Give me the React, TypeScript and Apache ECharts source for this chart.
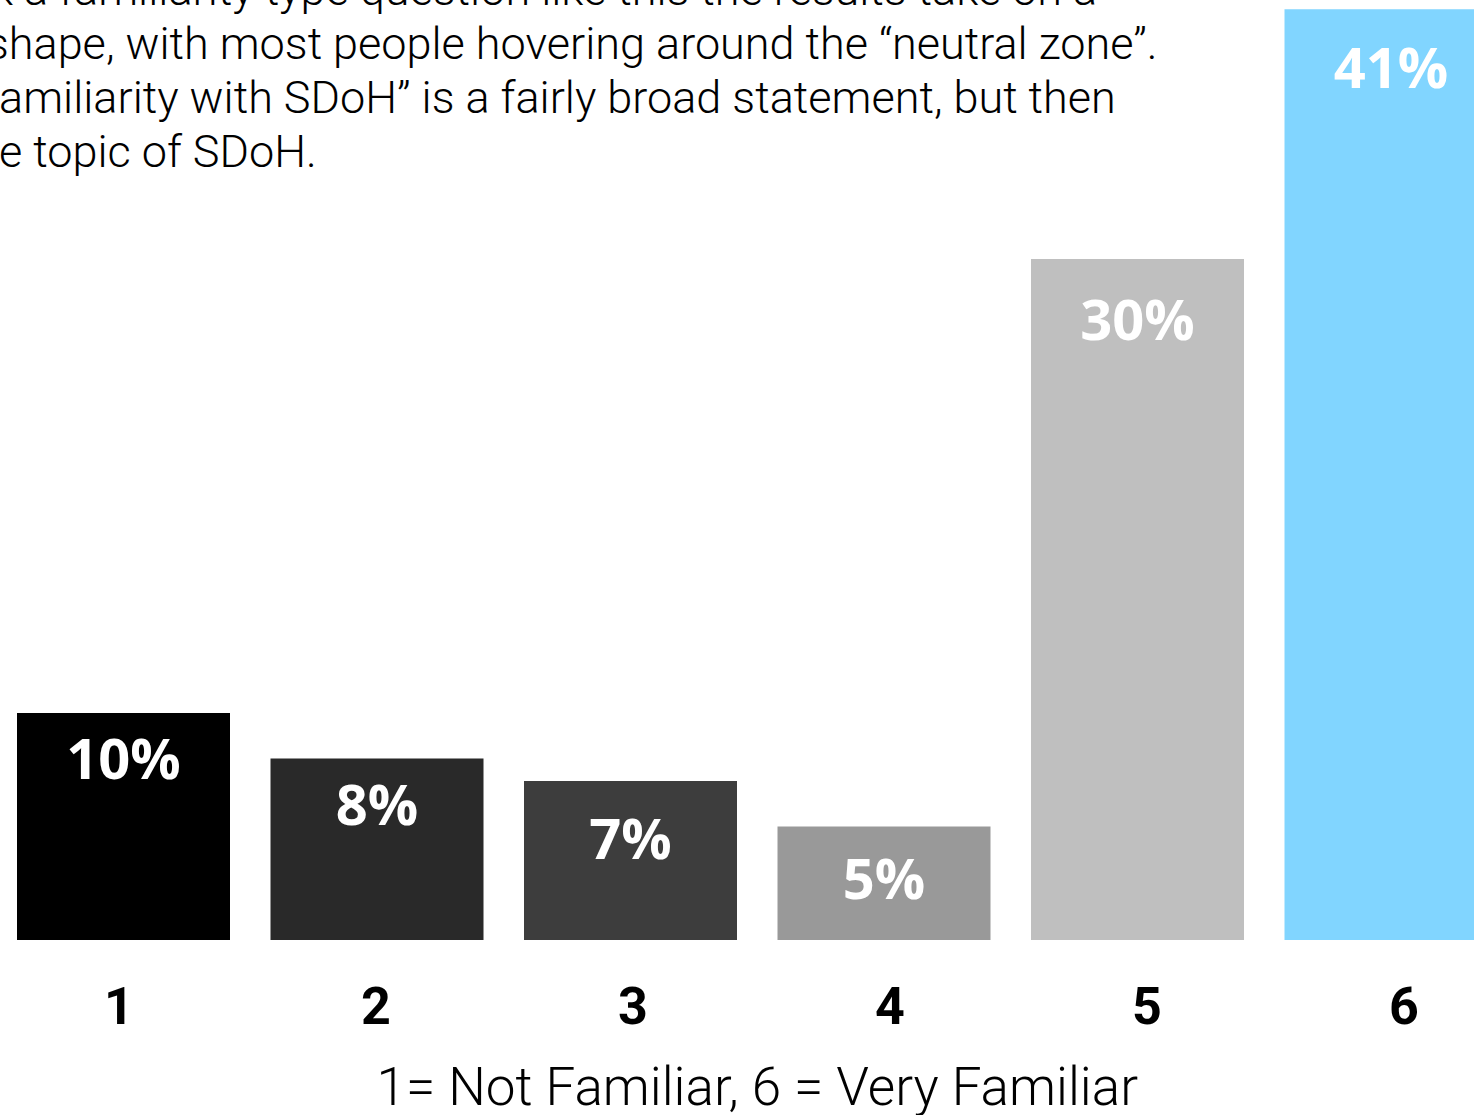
import React, { useEffect, useRef } from "react";
import * as echarts from "echarts";

const categories = ["1", "2", "3", "4", "5", "6"];
const values = [10, 8, 7, 5, 30, 41];
const barColors = ["#000000", "#292929", "#3d3d3d", "#999999", "#bfbfbf", "#81d5ff"];
const labelDistances = [16, 17, 28, 22, 31, 29];
const axisTitle = "1= Not Familiar, 6 = Very Familiar";
const introLines = [
  "k a familiarity type question like this the results take on a",
  "shape, with most people hovering around the \u201cneutral zone\u201d.",
  "amiliarity with SDoH\u201d is a fairly broad statement, but then",
  "e topic of SDoH.",
];
const introX = [-9, -14, -1, -1];

export default function App() {
  const ref = useRef<HTMLDivElement>(null);
  useEffect(() => {
    if (!ref.current) return;
    const chart = echarts.init(ref.current, null, { renderer: "svg" });
    chart.setOption({
      animation: false,
      backgroundColor: "#ffffff",
      grid: [
        {
          left: -3.25,
          width: 1521,
          top: 0,
          bottom: 175,
          containLabel: false,
          outerBoundsMode: "none",
        },
        {
          left: -9.5,
          width: 1542,
          top: 0,
          bottom: 175,
          containLabel: false,
          outerBoundsMode: "none",
        },
      ],
      xAxis: [
        {
          type: "category",
          gridIndex: 0,
          data: categories,
          axisLine: { show: false },
          axisTick: { show: false },
          axisLabel: { show: false },
          name: axisTitle,
          nameLocation: "middle",
          nameGap: 123,
          nameTextStyle: {
            fontFamily: "Roboto",
            fontWeight: 300,
            fontSize: 53,
            lineHeight: 48,
            color: "#000000",
          },
        },
        {
          type: "category",
          gridIndex: 1,
          data: categories,
          axisLine: { show: false },
          axisTick: { show: false },
          axisLabel: {
            margin: 40,
            fontFamily: "Roboto",
            fontWeight: "bold",
            fontSize: 52,
            color: "#000000",
          },
        },
      ],
      yAxis: [
        { type: "value", gridIndex: 0, min: 0, max: 41.41, show: false },
        { type: "value", gridIndex: 1, min: 0, max: 41.41, show: false },
      ],
      series: [
        {
          type: "bar",
          xAxisIndex: 0,
          yAxisIndex: 0,
          barWidth: 213,
          data: values.map((v, i) => ({
            value: v,
            itemStyle: { color: barColors[i] },
            label: { distance: labelDistances[i] },
          })),
          label: {
            show: true,
            position: "insideTop",
            formatter: "{c}%",
            color: "#ffffff",
            fontFamily: "'Open Sans', sans-serif",
            fontWeight: "bold",
            fontSize: 56,
          },
        },
      ],
      graphic: introLines.map((t, i) => ({
        type: "text",
        x: introX[i],
        y: -10.5 + i * 54,
        style: {
          text: t,
          fontFamily: "Roboto",
          fontWeight: 300,
          fontSize: 45,
          fill: "#000000",
          verticalAlign: "middle",
          align: "left",
        },
      })),
    });
    return () => chart.dispose();
  }, []);
  return (
    <div
      ref={ref}
      style={{ position: "absolute", left: 0, top: 0, width: 1474, height: 1115 }}
    />
  );
}
